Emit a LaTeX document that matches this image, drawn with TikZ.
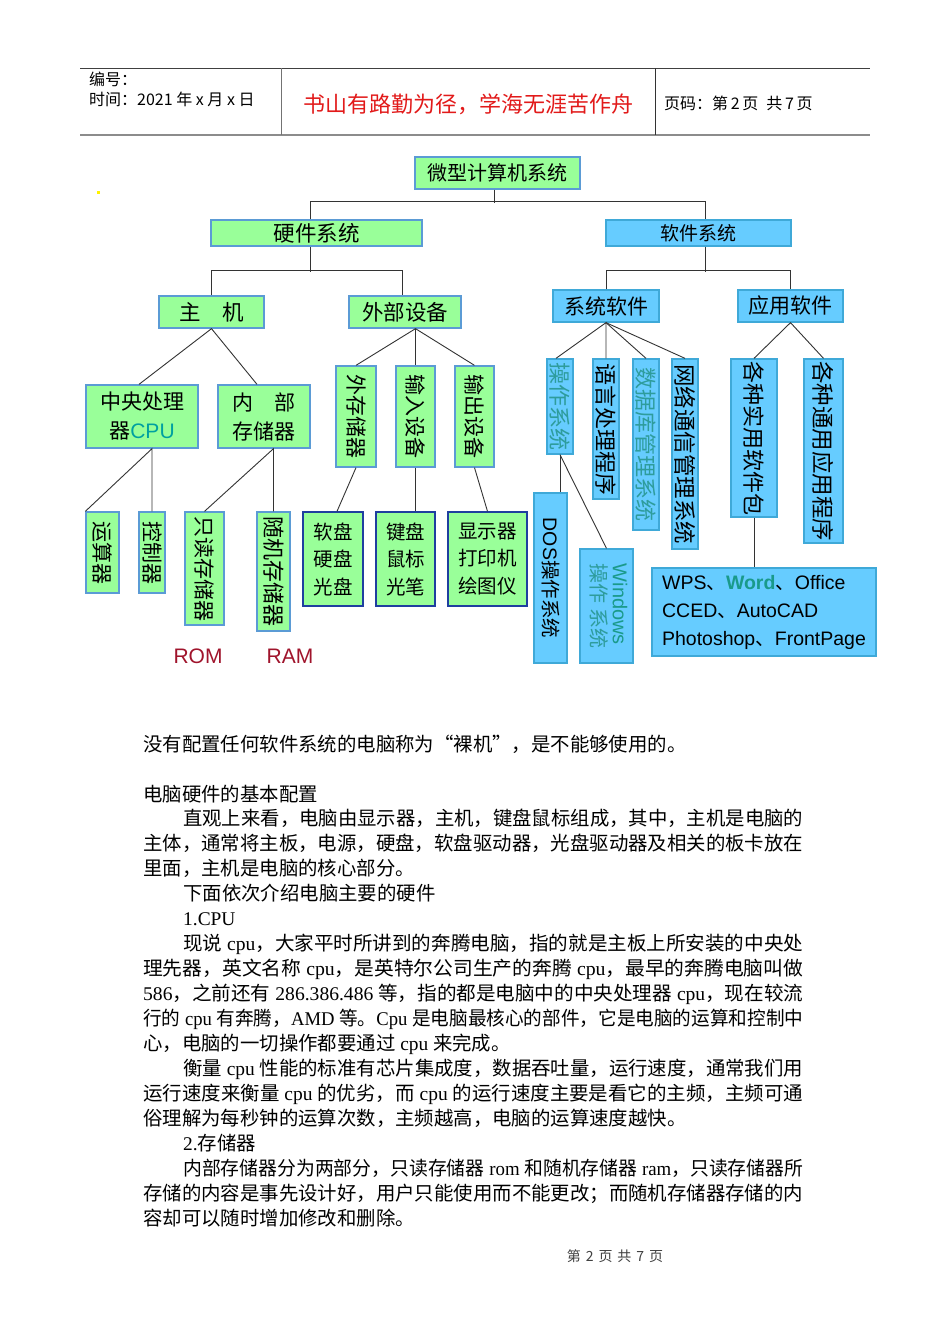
\documentclass[tikz,border=0pt]{standalone}
\usepackage{fontspec}
\usepackage{graphicx}
\setmainfont{Noto Sans CJK SC}
\newfontfamily\ari{Liberation Sans}
\newfontfamily\ser{Liberation Serif}
\newfontfamily\cjkf{Noto Sans CJK SC}
\newcommand\fs[1]{\fontsize{#1}{#1}\selectfont}
\newcommand\lt[1]{{\ser #1}}
\newcommand\cj[1]{{\cjkf #1}}
\newcommand\fullA[1]{\resizebox{620pt}{\height}{#1}}
\newcommand\fullB[1]{\resizebox{660pt}{\height}{#1}}
\definecolor{gfill}{HTML}{99FF99}
\definecolor{gline}{HTML}{5B9BD5}
\definecolor{gline2}{HTML}{1F3F9F}
\definecolor{bfill}{HTML}{66CCFF}
\definecolor{bline}{HTML}{3FA9D8}
\definecolor{tealt}{HTML}{2E9C9C}
\definecolor{cpuc}{HTML}{00A0A0}
\definecolor{wordc}{HTML}{1A9A8A}
\definecolor{romc}{HTML}{A0142C}
\definecolor{titler}{HTML}{E21A1A}
\begin{document}
\begin{tikzpicture}[x=1pt,y=-1pt,
  sz/.style 2 args={minimum width=#1pt, minimum height=#2pt},
  gbox/.style={draw=gline, fill=gfill, line width=1.3pt, inner sep=0pt, align=center},
  gboxd/.style={gbox, draw=gline2},
  bbox/.style={draw=bline, fill=bfill, line width=1.3pt, inner sep=0pt, align=center},
  conn/.style={draw=black!80, line width=0.9pt},
  bl/.style={anchor=base west, inner sep=0pt, font=\fontsize{19.4}{25}\selectfont},
  hd/.style={anchor=west, inner sep=0pt, font=\fs{16}},
]
\fill[white] (0,0) rectangle (950,1344);
\useasboundingbox (0,0) rectangle (950,1344);

% ---------- header ----------
\draw[black!75, line width=0.9pt] (80,68) -- (870,68);
\draw[black!45, line width=2pt] (80,135) -- (870,135);
\draw[black!55, line width=1pt] (281,68) -- (281,135);
\draw[black!80, line width=1pt] (655,68) -- (655,135);
\node[hd] (h1) at (89,79) {编号：};
\node[hd] (h2) at (89,99) {时间：2021 年 x 月 x 日};
\node[font=\fs{22}, text=titler, inner sep=0pt] (title) at (468,104) {书山有路勤为径，学海无涯苦作舟};
\node[hd] (h3) at (664,103) {页码：第\,2\,页\hspace{0.5em}共\,7\,页};

\fill[yellow] (96.5,190.5) rectangle ++(3,3);

% ---------- diagram nodes ----------
\node[gbox, sz={165}{32}, font=\fs{20}] (root) at (497.5,173) {微型计算机系统};
\node[gbox, sz={211}{26}, font=\fs{21.5}] (hw) at (316.5,233) {硬件系统};
\node[bbox, sz={185}{26}, font=\fs{19}] (sw) at (698.5,233) {软件系统};
\node[gbox, sz={105}{32}, font=\fs{21.5}] (host) at (211.5,312) {主\hspace{1em}机};
\node[gbox, sz={112}{32}, font=\fs{21.5}] (ext) at (405,312) {外部设备};
\node[bbox, sz={106}{32}, font=\fs{21}] (syssw) at (606,306) {系统软件};
\node[bbox, sz={105}{32}, font=\fs{21}] (appsw) at (790.5,306) {应用软件};

\node[gbox, sz={112}{63}, font=\fontsize{21}{29}\selectfont] (cpu) at (142,416.5) {中央处理\\器\textcolor{cpuc}{\ari CPU}};
\node[gbox, sz={92}{63}, font=\fontsize{21}{29}\selectfont] (mem) at (264,416.5) {内\hspace{1em}部\\存储器};
\node[gbox, sz={40}{101}, font=\fs{21}] (exts) at (356,416.5) {\rotatebox{-90}{外存储器}};
\node[gbox, sz={39}{101}, font=\fs{21}] (inp) at (415.5,416.5) {\rotatebox{-90}{输入设备}};
\node[gbox, sz={39}{101}, font=\fs{21}] (outp) at (474.5,416.5) {\rotatebox{-90}{输出设备}};

\node[gbox, sz={33}{81}, font=\fs{21}] (alu) at (102.5,552.5) {\rotatebox{-90}{运算器}};
\node[gbox, sz={26}{81}, font=\fs{21}] (ctl) at (152,552.5) {\rotatebox{-90}{控制器}};
\node[gbox, sz={39}{113}, font=\fs{21}] (rom) at (204.5,568.5) {\rotatebox{-90}{只读存储器}};
\node[gbox, sz={33}{119}, font=\fs{22}] (ram) at (273.5,571.5) {\rotatebox{-90}{随机存储器}};
\node[gboxd, sz={60}{94}, font=\fontsize{19.5}{27.5}\selectfont] (disk) at (333,559) {软盘\\硬盘\\光盘};
\node[gboxd, sz={59}{94}, font=\fontsize{19.5}{27.5}\selectfont] (kbd) at (405.5,559) {键盘\\鼠标\\光笔};
\node[gboxd, sz={79}{94}, font=\fontsize{19.5}{27.5}\selectfont] (disp) at (487.5,559) {显示器\\打印机\\绘图仪};

\node[font=\ari\fs{21}, text=romc, inner sep=0pt] (romlbl) at (198,656) {ROM};
\node[font=\ari\fs{21}, text=romc, inner sep=0pt] (ramlbl) at (290,656) {RAM};

\node[bbox, sz={26}{95}, font=\fs{22}, text=tealt] (os) at (560,406.5) {\rotatebox{-90}{操作系统}};
\node[bbox, sz={26}{140}, font=\fs{22}] (lang) at (606,429) {\rotatebox{-90}{语言处理程序}};
\node[bbox, sz={26}{171}, font=\fs{22}, text=tealt] (db) at (646,444.5) {\rotatebox{-90}{数据库管理系统}};
\node[bbox, sz={26}{190}, font=\fs{22.5}] (net) at (685,454) {\rotatebox{-90}{网络通信管理系统}};
\node[bbox, sz={46}{158}, font=\fs{22}] (util) at (754,438) {\rotatebox{-90}{各种实用软件包}};
\node[bbox, sz={39}{184}, font=\fs{22.5}] (gen) at (823.5,451) {\rotatebox{-90}{各种通用应用程序}};
\node[bbox, sz={33}{170}, font=\fs{19.5}] (dos) at (550.5,578) {\rotatebox{-90}{{\ari DOS}操作系统}};
\node[bbox, sz={53}{114}, font=\fontsize{20}{23}\selectfont] (win) at (606.5,606) {\rotatebox{-90}{\begin{tabular}{@{}l@{}}\textcolor{wordc}{\ari Windows}\\[-2pt]\textcolor{tealt}{操作 系统}\end{tabular}}};
\node[bbox, sz={224}{88}, align=left, font=\ari\fontsize{19.5}{28}\selectfont] (wps) at (764,612) {WPS\cj{、}\textcolor{wordc}{\bfseries Word}\cj{、}Office\\CCED\cj{、}AutoCAD\\Photoshop\cj{、}FrontPage};

% ---------- connectors ----------
\draw[conn] ([xshift=-3.5pt]root.south) -- ++(0,13);
\draw[conn] ([xshift=-6.5pt]hw.north) -- ++(0,-18) -| ([xshift=6.5pt]sw.north);
\draw[conn] ([xshift=-6.5pt]hw.south) -- ++(0,25);
\draw[conn] (host.north) -- ++(0,-25) -| ([xshift=-3pt]ext.north);
\draw[conn] ([xshift=6.5pt]sw.south) -- ++(0,25);
\draw[conn] (syssw.north) -- ++(0,-19) -| (appsw.north);

\draw[conn] ([xshift=-3pt]cpu.north) -- (host.south) -- ([xshift=-7pt]mem.north);
\coordinate (eb) at (ext.south -| inp.north);
\draw[conn] (exts.north) -- (eb) -- (outp.north);
\draw[conn] (eb) -- (inp.north);
\coordinate (cb) at (cpu.south -| ctl.north);
\draw[conn] (alu.north west) -- (cb) -- (ctl.north);
\coordinate (mb) at (mem.south -| ram.north);
\draw[conn] (rom.north) -- (mb) -- (ram.north);
\draw[conn] (exts.south) -- ([xshift=4pt]disk.north);
\draw[conn] (inp.south) -- (inp.south |- kbd.north);
\draw[conn] (outp.south) -- (disp.north);

\draw[conn] ([xshift=-4pt]os.north) -- (syssw.south) -- (lang.north);
\draw[conn] (syssw.south) -- (db.north);
\draw[conn] (syssw.south) -- (net.north);
\draw[conn] (util.north) -- (appsw.south) -- (gen.north);
\draw[conn] (os.south) -- (os.south |- dos.north);
\draw[conn] (os.south) -- (win.north);
\draw[conn] (util.south) -- (util.south |- wps.north);

% ---------- body text ----------
\node[bl] (t1) at (143,751) {没有配置任何软件系统的电脑称为“裸机”，是不能够使用的。};
\node[bl] (t2) at (143,801) {电脑硬件的基本配置};
\node[bl] (t3) at (183,825) {\fullA{直观上来看，电脑由显示器，主机，键盘鼠标组成，其中，主机是电脑的}};
\node[bl] (t4) at (143,850) {\fullB{主体，通常将主板，电源，硬盘，软盘驱动器，光盘驱动器及相关的板卡放在}};
\node[bl] (t5) at (143,875) {里面，主机是电脑的核心部分。};
\node[bl] (t6) at (183,900) {下面依次介绍电脑主要的硬件};
\node[bl] (t7) at (183,925) {\lt{1.CPU}};
\node[bl] (t8) at (183,950) {\fullA{现说\lt{ cpu}，大家平时所讲到的奔腾电脑，指的就是主板上所安装的中央处}};
\node[bl] (t9) at (143,975) {\fullB{理先器，英文名称\lt{ cpu}，是英特尔公司生产的奔腾\lt{ cpu}，最早的奔腾电脑叫做}};
\node[bl] (t10) at (143,1000) {\fullB{\lt{586}，之前还有\lt{ 286.386.486 }等，指的都是电脑中的中央处理器\lt{ cpu}，现在较流}};
\node[bl] (t11) at (143,1025) {\fullB{行的\lt{ cpu }有奔腾，\lt{AMD }等。\lt{Cpu }是电脑最核心的部件，它是电脑的运算和控制中}};
\node[bl] (t12) at (143,1050) {心，电脑的一切操作都要通过\lt{ cpu }来完成。};
\node[bl] (t13) at (183,1075) {\fullA{衡量\lt{ cpu }性能的标准有芯片集成度，数据吞吐量，运行速度，通常我们用}};
\node[bl] (t14) at (143,1100) {\fullB{运行速度来衡量\lt{ cpu }的优劣，而\lt{ cpu }的运行速度主要是看它的主频，主频可通}};
\node[bl] (t15) at (143,1125) {俗理解为每秒钟的运算次数，主频越高，电脑的运算速度越快。};
\node[bl] (t16) at (183,1150) {\lt{2.}存储器};
\node[bl] (t17) at (183,1175) {\fullA{内部存储器分为两部分，只读存储器\lt{ rom }和随机存储器\lt{ ram}，只读存储器所}};
\node[bl] (t18) at (143,1200) {\fullB{存储的内容是事先设计好，用户只能使用而不能更改；而随机存储器存储的内}};
\node[bl] (t19) at (143,1225) {容却可以随时增加修改和删除。};

\node[font=\fs{14}, text=black!75, inner sep=0pt] (foot) at (615,1256) {第\hspace{0.35em}2\hspace{0.35em}页\hspace{0.35em}共\hspace{0.35em}7\hspace{0.35em}页};
\end{tikzpicture}
\end{document}
